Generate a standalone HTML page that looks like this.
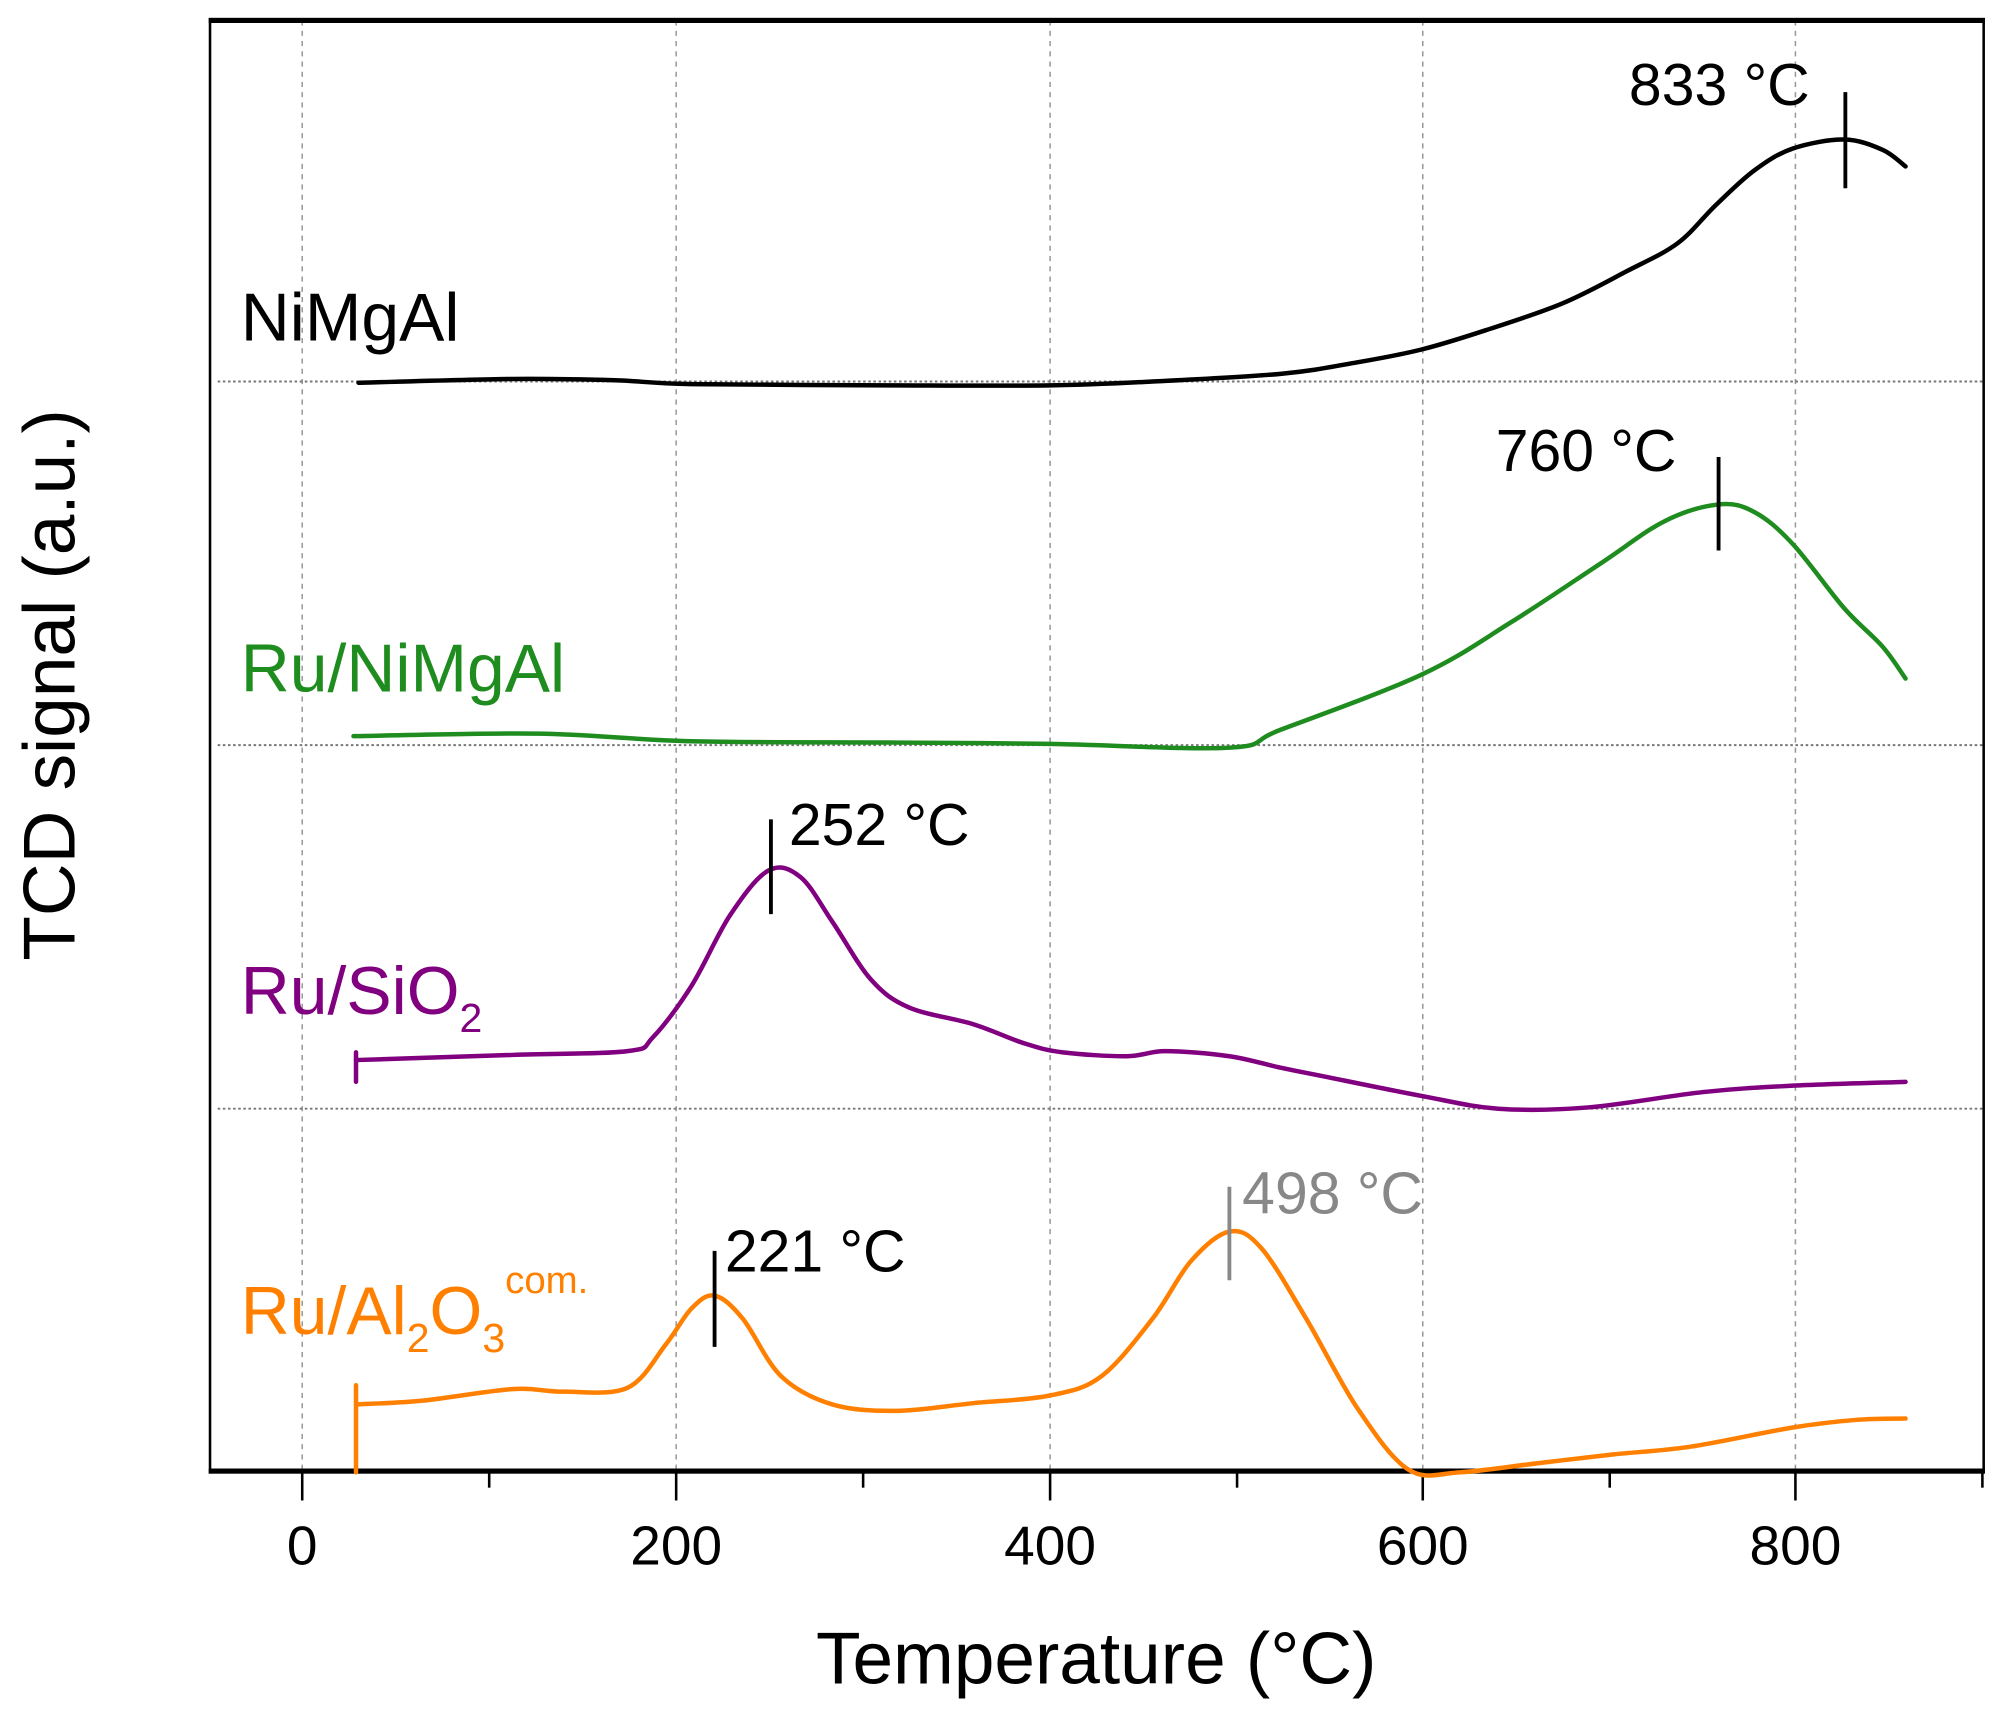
<!DOCTYPE html>
<html><head><meta charset="utf-8"><style>
html,body{margin:0;padding:0;background:#fff;}
svg{display:block;}
text{font-family:"Liberation Sans",Arial,sans-serif;}
</style></head><body>
<svg id="s" width="2008" height="1713" viewBox="0 0 1568 1338" preserveAspectRatio="none" xmlns="http://www.w3.org/2000/svg">
<g stroke="#999" stroke-width="1.2" stroke-dasharray="4,4">
<line x1="236" y1="16" x2="236" y2="1148"/><line x1="528" y1="16" x2="528" y2="1148"/><line x1="820" y1="16" x2="820" y2="1148"/><line x1="1111" y1="16" x2="1111" y2="1148"/><line x1="1402" y1="16" x2="1402" y2="1148"/>
</g>
<g stroke="#777" stroke-width="1.5" stroke-dasharray="2,2">
<line x1="170" y1="298" x2="1548" y2="298"/><line x1="170" y1="582" x2="1548" y2="582"/><line x1="170" y1="866" x2="1548" y2="866"/>
</g>
<rect x="164" y="15" width="1385" height="1135" fill="none" stroke="#000" stroke-width="2"/>
<line x1="163" y1="16" x2="1550" y2="16" stroke="#000" stroke-width="4"/>
<line x1="163" y1="1149" x2="1550" y2="1149" stroke="#000" stroke-width="4"/>
<g stroke="#000" stroke-width="2">
<line x1="236" y1="1149" x2="236" y2="1172"/><line x1="528" y1="1149" x2="528" y2="1172"/><line x1="820" y1="1149" x2="820" y2="1172"/><line x1="1111" y1="1149" x2="1111" y2="1172"/><line x1="1402" y1="1149" x2="1402" y2="1172"/>
<line x1="382" y1="1149" x2="382" y2="1162"/><line x1="674" y1="1149" x2="674" y2="1162"/><line x1="966" y1="1149" x2="966" y2="1162"/><line x1="1257" y1="1149" x2="1257" y2="1162"/><line x1="1548" y1="1149" x2="1548" y2="1162"/>
</g>
<g font-size="43" text-anchor="middle" fill="#000">
<text x="236" y="1222">0</text><text x="528" y="1222">200</text><text x="820" y="1222">400</text><text x="1111" y="1222">600</text><text x="1402" y="1222">800</text>
</g>
<text x="856" y="1315" font-size="57" text-anchor="middle">Temperature (°C)</text>
<text transform="translate(58,535) rotate(-90)" font-size="57" text-anchor="middle">TCD signal (a.u.)</text>
<g fill="none" stroke-width="3.5" stroke-linejoin="round" stroke-linecap="round">
<polyline class="c" stroke="#000" points="280,299 400,296 480,297 540,300 700,301 820,301 900,298 1000,292 1060,283 1110,273 1160,258 1220,237 1270,212 1310,190 1340,160 1370,133 1400,116 1440,109 1470,117 1488,130"/>
<polyline class="c" stroke="#1e8c1e" points="276,575 420,573 540,579 700,580 820,581 960,584 1000,570 1110,527 1180,486 1250,440 1300,407 1342,394 1370,400 1400,425 1440,475 1470,505 1488,530"/>
<polyline stroke="#800080" points="278,845 278,822"/>
<polyline class="c" stroke="#800080" points="278,828 400,824 490,821 510,810 540,770 570,715 600,680 625,685 650,720 680,765 710,787 760,800 800,815 830,822 880,825 910,821 960,825 1000,834 1030,840 1110,856 1170,866 1240,865 1330,853 1400,848 1488,845"/>
<polyline stroke="#ff8000" points="278,1150 278,1082"/>
<polyline class="c" stroke="#ff8000" points="278,1097 330,1094 400,1085 440,1087 490,1084 520,1050 540,1022 558,1012 580,1030 610,1075 650,1097 700,1102 760,1096 820,1090 860,1075 900,1030 930,985 960,962 985,975 1020,1030 1060,1100 1100,1148 1140,1150 1200,1143 1260,1136 1320,1130 1400,1115 1450,1109 1488,1108"/>
</g>
<g stroke="#000" stroke-width="3">
<line x1="1441" y1="72" x2="1441" y2="147"/><line x1="1342" y1="357" x2="1342" y2="430"/><line x1="602" y1="640" x2="602" y2="714"/><line x1="558" y1="977" x2="558" y2="1052"/>
</g>
<line x1="960" y1="927" x2="960" y2="1000" stroke="#888" stroke-width="3"/>
<g font-size="46">
<text x="1272" y="82">833 °C</text>
<text x="1168" y="368">760 °C</text>
<text x="616" y="660">252 °C</text>
<text x="566" y="993">221 °C</text>
<text x="970" y="948" fill="#888">498 °C</text>
</g>
<g font-size="53">
<text x="188" y="266">NiMgAl</text>
<text x="188" y="540" fill="#1e8c1e">Ru/NiMgAl</text>
<text x="188" y="792" fill="#800080">Ru/SiO<tspan font-size="32" dy="14">2</tspan></text>
<text x="188" y="1042" fill="#ff8000">Ru/Al<tspan font-size="32" dy="14">2</tspan><tspan dy="-14">O</tspan><tspan font-size="32" dy="14">3</tspan><tspan font-size="30" dy="-46">com.</tspan></text>
</g>
</svg>
<script>
document.querySelectorAll('polyline.c').forEach(function(pl){
  var pts=pl.getAttribute('points').trim().split(/\s+/).map(function(p){return p.split(',').map(Number);});
  var d='M'+pts[0][0]+','+pts[0][1];
  for(var i=0;i<pts.length-1;i++){
    var p0=pts[i-1]||pts[i],p1=pts[i],p2=pts[i+1],p3=pts[i+2]||p2;
    var c1x=p1[0]+(p2[0]-p0[0])/6,c1y=p1[1]+(p2[1]-p0[1])/6;
    var c2x=p2[0]-(p3[0]-p1[0])/6,c2y=p2[1]-(p3[1]-p1[1])/6;
    d+=' C'+c1x+','+c1y+' '+c2x+','+c2y+' '+p2[0]+','+p2[1];
  }
  var path=document.createElementNS('http://www.w3.org/2000/svg','path');
  path.setAttribute('d',d);path.setAttribute('stroke',pl.getAttribute('stroke'));
  pl.parentNode.replaceChild(path,pl);
});
</script>
</body></html>
